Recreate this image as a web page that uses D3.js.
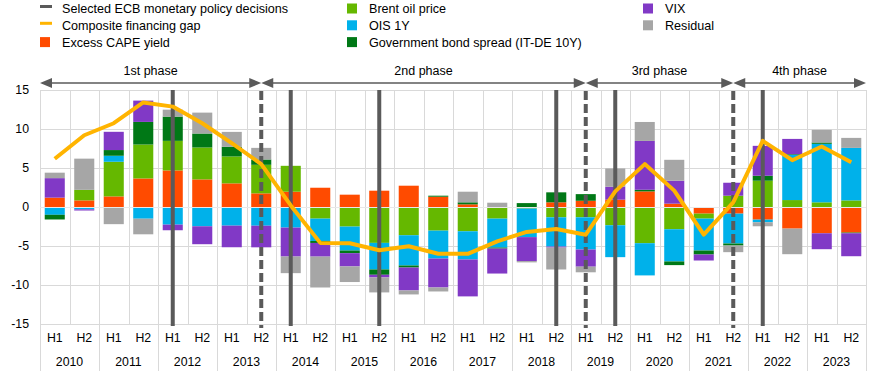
<!DOCTYPE html>
<html>
<head>
<meta charset="utf-8">
<script src="https://cdn.jsdelivr.net/npm/d3@7/dist/d3.min.js"></script>
<style>
  body { margin: 0; background: #fff; }
  svg { display: block; font-family: "Liberation Sans", Arial, sans-serif; }
</style>
</head>
<body>
<div id="chart"></div>
<script>
// categories
const years = [2010, 2011, 2012, 2013, 2014, 2015, 2016, 2017, 2018, 2019, 2020, 2021, 2022, 2023]
const halves = ["H1", "H2"]
const periods = years.flatMap(yr => halves.map(h => yr + " " + h))

// contributions (pp), one value per half-year
const cape = [1.2, 0.85, 1.36, 3.66, 4.69, 3.54, 3.03, 1.75, 1.96, 2.47, 1.58, 2.09, 2.73, 1.32,
              0.34, 0, 0, 0.6, 0.8, 0.94, 2.0, 0.43, -0.85, -0.85, -1.62, -2.77, -3.37, -3.28]
const brent = [0, 1.35, 4.44, 4.35, 3.79, 4.09, 3.45, 3.66, 3.32, -1.49, -2.51, -4.6, -3.62, -3.03,
               -3.11, -1.49, -0.2, -1.32, -1.32, -2.34, -4.64, -2.85, -0.64, 1.45, 3.37, 0.89, 0.6, 0.85]
const ois = [-1.0, -0.3, 0.77, -1.5, -2.26, -2.47, -2.39, -2.4, -2.64, -2.86, -3.07, -3.41, -3.88, -3.58,
             -3.62, -3.71, -3.66, -3.75, -4.13, -4.09, -4.13, -4.13, -4.09, -3.83, -0.34, 5.79, 7.5, 6.73]
const govSpread = [-0.6, 0, 0.73, 2.9, 3.11, 1.79, 1.23, 0.68, 0, -0.26, -0.34, -0.68, -0.26, 0.13,
                   0.26, -0.13, 0.5, 1.28, 0.85, 0, 0.21, -0.47, -0.51, -0.26, 0.64, 0.09, 0.17, -0.09]
const vix = [2.5, -0.15, 2.34, 2.73, -0.72, -2.3, -2.77, -2.77, -3.71, -1.75, -1.7, -0.34, -2.94, -3.71,
             -4.73, -3.2, -3.07, -0.13, -2.2, 1.66, 6.26, 2.94, -0.77, 1.66, 3.83, 1.96, -2.04, -2.94]
const residual = [0.7, 4.0, -2.2, -2.0, 0.89, 2.68, 1.92, 1.49, -2.13, -3.96, -2.0, -1.92, -0.51, -0.51,
                  1.36, 0.55, -0.17, -2.81, -0.72, 2.34, 2.43, 2.68, 0, -0.85, -0.51, -3.28, 1.62, 1.28]
// composite financing gap
const gap = [6.18, 9.2, 10.74, 13.4, 12.87, 10.74, 8.18, 5.5, 0.2, -4.6, -4.65, -5.55, -5.04, -6.0,
             -6.0, -4.4, -3.2, -2.82, -3.55, 2.0, 5.5, 2.1, -3.55, 0.6, 8.48, 6.0, 7.75, 5.75]

const yTicks = [-15, -10, -5, 0, 5, 10, 15]

// ECB decisions and phases
const solidDecisions = ["2012 H1", "2014 H1", "2015 H2", "2018 H2", "2019 H2", "2022 H1"]
const dashedDecisions = ["2013 H2", "2019 H1", "2021 H2"]
const phaseNames = ["1st phase", "2nd phase", "3rd phase", "4th phase"]
const phaseBreaks = ["2013 H2", "2019 H1", "2021 H2"]

const series = [
  { key: "cape", name: "Excess CAPE yield", values: cape, color: "#FF4B00" },
  { key: "brent", name: "Brent oil price", values: brent, color: "#65B800" },
  { key: "ois", name: "OIS 1Y", values: ois, color: "#00B1EA" },
  { key: "gov", name: "Government bond spread (IT-DE 10Y)", values: govSpread, color: "#007816" },
  { key: "vix", name: "VIX", values: vix, color: "#8139C6" },
  { key: "res", name: "Residual", values: residual, color: "#A6A6A6" }
]

const width = 880, height = 371
const margin = { top: 90, right: 14, bottom: 47, left: 40 }
const lineGrey = "#5A5A5A"

const table = periods.map((p, i) => {
  const row = { period: p }
  series.forEach(s => row[s.key] = s.values[i])
  return row
})

const svg = d3.select("#chart")
              .append("svg")
              .attr("width", width)
              .attr("height", height)

const x = d3.scaleBand()
            .domain(periods)
            .range([margin.left, width - margin.right])
            .paddingInner(0.32)
            .paddingOuter(0.16)

const y = d3.scaleLinear()
            .domain([-15, 15])
            .range([height - margin.bottom, margin.top])

const cx = p => x(p) + x.bandwidth() / 2
const step = x.step()
const x0 = margin.left, x1 = width - margin.right
const yBottom = height - margin.bottom

// grid
svg.append("g")
   .attr("stroke", "#D9D9D9")
   .attr("stroke-width", 1)
   .selectAll("line")
   .data(yTicks)
   .join("line")
   .attr("x1", x0).attr("x2", x1)
   .attr("y1", d => Math.round(y(d)) + 0.5)
   .attr("y2", d => Math.round(y(d)) + 0.5)

svg.append("g")
   .attr("stroke", "#D9D9D9")
   .selectAll("line")
   .data(periods.concat(["end"]))
   .join("line")
   .attr("x1", (d, i) => Math.round(x0 + i * step) + 0.5)
   .attr("x2", (d, i) => Math.round(x0 + i * step) + 0.5)
   .attr("y1", margin.top)
   .attr("y2", (d, i) => i % 2 === 0 ? height : yBottom)

// stacked bars
const stack = d3.stack()
                .keys(series.map(s => s.key))
                .offset(d3.stackOffsetDiverging)

svg.append("g")
   .selectAll("g")
   .data(stack(table))
   .join("g")
   .attr("fill", (d, i) => series[i].color)
   .selectAll("rect")
   .data(d => d)
   .join("rect")
   .attr("x", d => x(d.data.period))
   .attr("width", x.bandwidth())
   .attr("y", d => y(Math.max(d[0], d[1])))
   .attr("height", d => Math.abs(y(d[0]) - y(d[1])))

// zero line on top of the bars
svg.append("line")
   .attr("x1", x0).attr("x2", x1)
   .attr("y1", Math.round(y(0)) + 0.5).attr("y2", Math.round(y(0)) + 0.5)
   .attr("stroke", "#E8E8E8")

// ECB decisions
svg.append("g")
   .attr("stroke", lineGrey)
   .attr("stroke-width", 4)
   .selectAll("line")
   .data(solidDecisions)
   .join("line")
   .attr("x1", cx).attr("x2", cx)
   .attr("y1", margin.top).attr("y2", yBottom + 2)

svg.append("g")
   .attr("stroke", lineGrey)
   .attr("stroke-width", 4)
   .attr("stroke-dasharray", "9,4")
   .selectAll("line")
   .data(dashedDecisions)
   .join("line")
   .attr("x1", cx).attr("x2", cx)
   .attr("y1", margin.top + 1).attr("y2", yBottom + 4)

// composite financing gap
svg.append("path")
   .datum(gap)
   .attr("fill", "none")
   .attr("stroke", "#FFB400")
   .attr("stroke-width", 4)
   .attr("stroke-linejoin", "round")
   .attr("d", d3.line().x((d, i) => cx(periods[i])).y(d => y(d)))

// y axis labels
svg.append("g")
   .attr("font-size", 12.3)
   .attr("text-anchor", "end")
   .selectAll("text")
   .data(yTicks)
   .join("text")
   .attr("x", 29)
   .attr("y", d => y(d))
   .attr("dy", "0.35em")
   .text(d => d)

// x axis labels
svg.append("g")
   .attr("font-size", 12.3)
   .attr("text-anchor", "middle")
   .selectAll("text")
   .data(periods)
   .join("text")
   .attr("x", cx)
   .attr("y", 342)
   .text(d => d.split(" ")[1])

svg.append("g")
   .attr("font-size", 12.3)
   .attr("text-anchor", "middle")
   .selectAll("text")
   .data(years)
   .join("text")
   .attr("x", (d, i) => x0 + (i + 1) * 2 * step - step)
   .attr("y", 366)
   .text(d => d)

// phase arrows
const bounds = [x0].concat(phaseBreaks.map(cx), [x1])
const ay = 83
const phases = svg.append("g")
                  .selectAll("g")
                  .data(phaseNames)
                  .join("g")

phases.append("line")
      .attr("x1", (d, i) => bounds[i] + 6).attr("x2", (d, i) => bounds[i + 1] - 6)
      .attr("y1", ay).attr("y2", ay)
      .attr("stroke", lineGrey).attr("stroke-width", 1.3)

phases.append("path")
      .attr("fill", lineGrey)
      .attr("d", (d, i) => {
        const a = bounds[i], b = bounds[i + 1]
        return `M${a},${ay}L${a + 12},${ay - 5}L${a + 12},${ay + 5}Z` +
               `M${b},${ay}L${b - 12},${ay - 5}L${b - 12},${ay + 5}Z`
      })

phases.append("text")
      .attr("x", (d, i) => (bounds[i] + bounds[i + 1]) / 2)
      .attr("y", 75)
      .attr("text-anchor", "middle")
      .attr("font-size", 12.5)
      .text(d => d)

// legend
const legendItems = [
  { name: "Selected ECB monetary policy decisions", color: lineGrey, type: "line", col: 0, row: 0 },
  { name: "Composite financing gap", color: "#FFB400", type: "line", col: 0, row: 1 },
  { name: series[0].name, color: series[0].color, col: 0, row: 2 },
  { name: series[1].name, color: series[1].color, col: 1, row: 0 },
  { name: series[2].name, color: series[2].color, col: 1, row: 1 },
  { name: series[3].name, color: series[3].color, col: 1, row: 2 },
  { name: series[4].name, color: series[4].color, col: 2, row: 0 },
  { name: series[5].name, color: series[5].color, col: 2, row: 1 }
]
const colX = [40, 347, 643]
const rowY = [8.5, 25.3, 42.1]

const legend = svg.append("g")
                  .selectAll("g")
                  .data(legendItems)
                  .join("g")
                  .attr("transform", d => `translate(${colX[d.col]},${rowY[d.row]})`)

legend.filter(d => d.type === "line")
      .append("rect")
      .attr("x", 0).attr("y", -3.5).attr("width", 12).attr("height", 3)
      .attr("fill", d => d.color)

legend.filter(d => d.type !== "line")
      .append("rect")
      .attr("x", 0).attr("y", -5).attr("width", 10).attr("height", 10)
      .attr("fill", d => d.color)

legend.append("text")
      .attr("x", 22)
      .attr("dy", "0.36em")
      .attr("font-size", 12.6)
      .text(d => d.name)
</script>
</body>
</html>
